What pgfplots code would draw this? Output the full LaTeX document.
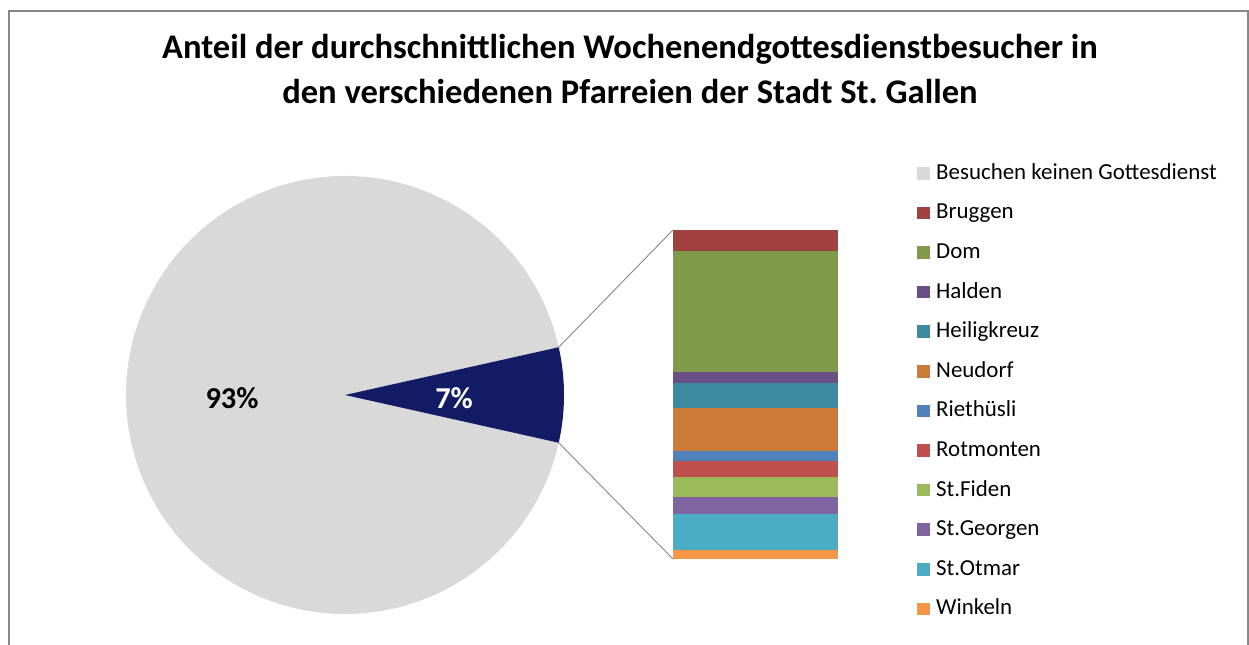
\documentclass[border=0pt]{standalone}
\usepackage{pgfplots}
\pgfplotsset{compat=1.18}
\usepackage{fontspec}
\setmainfont{Carlito}
\frenchspacing
\definecolor{cgray}{HTML}{D9D9D9}
\definecolor{cnavy}{HTML}{131B64}
\definecolor{cbrug}{HTML}{9F413E}
\definecolor{cdom}{HTML}{7F9B4A}
\definecolor{chal}{HTML}{6A4F87}
\definecolor{chei}{HTML}{3C8BA3}
\definecolor{cneu}{HTML}{CC7B38}
\definecolor{crie}{HTML}{4F81BD}
\definecolor{crot}{HTML}{C0504D}
\definecolor{cfid}{HTML}{9BBB59}
\definecolor{cgeo}{HTML}{8064A2}
\definecolor{cotm}{HTML}{4BACC6}
\definecolor{cwin}{HTML}{F79646}
\definecolor{cframe}{HTML}{878787}
% pie values (percent)
\def\pieA{93}
\def\pieB{7}
\pgfmathsetmacro{\ha}{\pieB*1.8}
\begin{document}
\begin{tikzpicture}[x=1bp,y=1bp]
\draw[cframe, line width=1.6bp] (9,-20) -- (9,634) -- (1248,634) -- (1248,-20);
\node[font=\bfseries\fontsize{34.7}{45}\selectfont, align=center] at (630,576) {Anteil der durchschnittlichen Wochenendgottesdienstbesucher in\\den verschiedenen Pfarreien der Stadt St.\ Gallen};
% pie
\begin{axis}[at={(345bp,250bp)}, anchor=center, x=219bp, y=219bp,
  xmin=-1, xmax=1, ymin=-1, ymax=1, hide axis, clip=false]
\fill[cgray] (axis cs:0,0) -- (axis cs:{cos(\ha)},{sin(\ha)}) arc[start angle=\ha, end angle={360-\ha}, radius=219bp] -- cycle;
\fill[cnavy] (axis cs:0,0) -- (axis cs:{cos(-\ha)},{sin(-\ha)}) arc[start angle=-\ha, end angle=\ha, radius=219bp] -- cycle;
\coordinate (wt) at (axis cs:{cos(\ha)},{sin(\ha)});
\coordinate (wb) at (axis cs:{cos(\ha)},{-sin(\ha)});
\node[font=\bfseries\fontsize{30.5}{34}\selectfont] at (axis cs:-0.516,-0.014) {\pieA\%};
\node[font=\bfseries\fontsize{30.5}{34}\selectfont, white] at (axis cs:0.498,-0.014) {\pieB\%};
\end{axis}
% bar of pie
\begin{axis}[at={(755.5bp,86bp)}, anchor=south, x=100bp, y=47bp,
  xmin=-1, xmax=1, ymin=0, ymax=7, hide axis, clip=false,
  ybar stacked, bar width=165bp,
  every axis plot/.append style={draw=none},
  reverse legend,
  legend cell align=left,
  legend image code/.code={\fill[#1] (0bp,-6.25bp) rectangle (12.5bp,6.25bp); \path (0bp,0bp) -- (19bp,0bp);},
  legend style={at={(1.3075,1.2064)}, anchor=north west, draw=none, fill=none,
    inner sep=0pt, column sep=0pt, row sep=17.6bp,
    font=\fontsize{23}{27}\selectfont,
    nodes={inner sep=0pt, text height=17bp, text depth=5bp}},
]
\addplot[fill=cwin] coordinates {(0,0.191)}; \addlegendentry{Winkeln}
\addplot[fill=cotm] coordinates {(0,0.766)}; \addlegendentry{St.Otmar}
\addplot[fill=cgeo] coordinates {(0,0.368)}; \addlegendentry{St.Georgen}
\addplot[fill=cfid] coordinates {(0,0.419)}; \addlegendentry{St.Fiden}
\addplot[fill=crot] coordinates {(0,0.334)}; \addlegendentry{Rotmonten}
\addplot[fill=crie] coordinates {(0,0.226)}; \addlegendentry{Riethüsli}
\addplot[fill=cneu] coordinates {(0,0.909)}; \addlegendentry{Neudorf}
\addplot[fill=chei] coordinates {(0,0.526)}; \addlegendentry{Heiligkreuz}
\addplot[fill=chal] coordinates {(0,0.234)}; \addlegendentry{Halden}
\addplot[fill=cdom] coordinates {(0,2.581)}; \addlegendentry{Dom}
\addplot[fill=cbrug] coordinates {(0,0.447)}; \addlegendentry{Bruggen}
\addlegendimage{fill=cgray, draw=none}
\addlegendentry{Besuchen keinen Gottesdienst}
\coordinate (bt) at (axis cs:-0.825,7.001);
\coordinate (bb) at (axis cs:-0.825,0);
\end{axis}
\draw[cframe, line width=0.9bp] (wt) -- (bt);
\draw[cframe, line width=0.9bp] (wb) -- (bb);
\pgfresetboundingbox
\useasboundingbox (0,0) rectangle (1249,645);
\end{tikzpicture}
\end{document}
